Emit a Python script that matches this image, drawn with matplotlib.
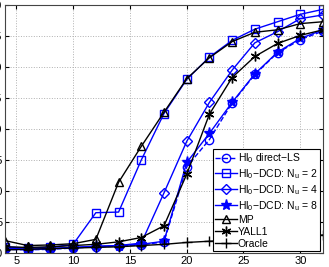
import numpy as np
import matplotlib
matplotlib.use('Agg')
import matplotlib.pyplot as plt

# valores
x = [4, 6, 8, 10, 12, 14, 16, 18, 20, 22, 24, 26, 28, 30, 32]
direct_ls = [0.6, 0.5, 0.6, 0.8, 1.0, 1.1, 1.3, 1.8, 13.9, 18.3, 24.2, 28.8, 32.3, 34.4, 35.8]
dcd_nu2 = [1.0, 0.8, 0.9, 1.4, 6.5, 6.6, 15.0, 22.5, 28.0, 31.6, 34.3, 36.1, 37.3, 38.5, 39.3]
dcd_nu4 = [0.8, 0.6, 0.7, 0.9, 1.0, 1.2, 1.6, 9.7, 18.0, 24.3, 29.5, 33.9, 35.7, 37.8, 38.4]
dcd_nu8 = [0.7, 0.6, 0.7, 0.9, 1.1, 1.2, 1.4, 1.9, 14.6, 19.3, 24.3, 28.9, 32.4, 34.6, 36.0]
mp = [2.0, 1.2, 1.3, 1.5, 2.2, 11.4, 17.2, 22.7, 28.1, 31.5, 34.1, 35.6, 36.0, 37.0, 37.3]
yall1 = [1.0, 0.9, 1.0, 1.2, 1.4, 1.8, 2.5, 4.4, 12.7, 22.4, 28.3, 31.7, 33.8, 35.1, 36.0]
oracle = [0.5, 0.6, 0.7, 0.8, 0.9, 1.0, 1.2, 1.4, 1.7, 1.9, 2.1, 2.3, 2.5, 2.7, 2.9]

x_ticks = [5, 10, 15, 20, 25, 30]
y_ticks = [0, 5, 10, 15, 20, 25, 30, 35, 40]

plt.rcParams['font.family'] = ['Liberation Sans', 'DejaVu Sans']
plt.rcParams['mathtext.fontset'] = 'custom'
plt.rcParams['mathtext.rm'] = 'Liberation Sans'
plt.rcParams['mathtext.it'] = 'Liberation Sans'
plt.rcParams['font.size'] = 8

fig = plt.figure(figsize=(3.29, 2.67), dpi=100)
ax = fig.add_axes([5 / 329, 14 / 267, 318 / 329, 248 / 267])

azul = (0, 0, 1)
asterisco = (6, 2, 0)

ax.plot(x, direct_ls, '--', color=azul, marker='o', mfc='none', ms=6, lw=1, label='Hl$_0$ direct\u2212LS')
ax.plot(x, dcd_nu2, '-', color=azul, marker='s', mfc='none', ms=6, lw=1, label='Hl$_0$\u2212DCD: N$_u$ = 2')
ax.plot(x, dcd_nu4, '-', color=azul, marker='D', mfc='none', ms=5.5, lw=1, label='Hl$_0$\u2212DCD: N$_u$ = 4')
ax.plot(x, dcd_nu8, '-', color=azul, marker='*', ms=8, lw=1, label='Hl$_0$\u2212DCD: N$_u$ = 8')
ax.plot(x, mp, '-', color='k', marker='^', mfc='none', ms=6, lw=1, label='MP')
ax.plot(x, yall1, '-', color='k', marker=asterisco, ms=7, lw=1, label='YALL1')
ax.plot(x, oracle, '-', color='k', marker='+', ms=7, lw=1, label='Oracle')

ax.set_xlim(4, 32)
ax.set_ylim(0, 40)
ax.set_xticks(x_ticks)
ax.set_yticks(y_ticks)
ax.grid(True, linestyle=':', color='#b0b0b0', lw=0.7)
ax.tick_params(direction='in', top=True, right=True, length=3, pad=2, labelsize=8)
for s in ax.spines.values():
    s.set_color('#444444')
    s.set_linewidth(0.8)

leg = ax.legend(loc='lower right', bbox_to_anchor=(0.99, 0.008), fontsize=7.5,
                frameon=True, fancybox=False, edgecolor='k', framealpha=1,
                borderpad=0.2, labelspacing=0.2, handlelength=2.1, handletextpad=0.1,
                borderaxespad=0.0)
leg.get_frame().set_linewidth(0.8)

fig.savefig('out.png', dpi=100)
